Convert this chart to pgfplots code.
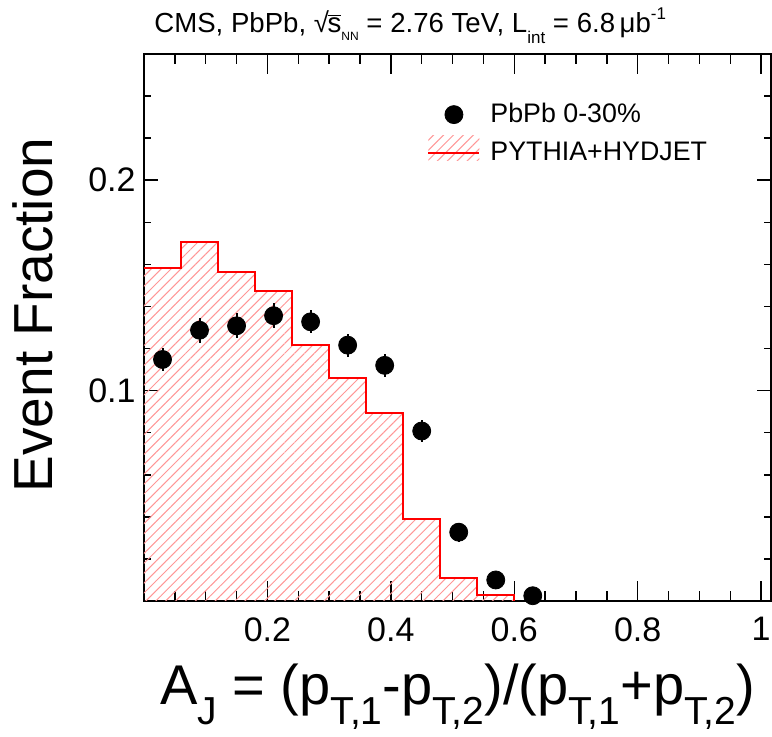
\documentclass[border=0pt]{standalone}
\usepackage{fontspec}
\setmainfont{Liberation Sans}
\usepackage{pgfplots}
\pgfplotsset{compat=1.18}
\usetikzlibrary{patterns.meta}
\definecolor{hatchred}{RGB}{255,150,150}
% ROOT-style lowered subscript for the axis title
\newcommand{\lsub}[1]{\raisebox{-10pt}{\fontsize{19.5}{19.5}\selectfont #1}}

\begin{document}
\begin{tikzpicture}
\begin{axis}[
    scale only axis,
    width=313.5pt, height=273.5pt,
    xmin=0, xmax=1.016, ymin=0, ymax=0.26,
    axis line style={line width=1pt},
    xtick={0.2,0.4,0.6,0.8,1},
    minor xtick={0.05,0.1,0.15,0.25,0.3,0.35,0.45,0.5,0.55,0.65,0.7,0.75,0.85,0.9,0.95},
    ytick={0.1,0.2},
    minor ytick={0.02,0.04,0.06,0.08,0.12,0.14,0.16,0.18,0.22,0.24},
    tick align=inside,
    tick style={black, line width=0.75pt},
    x tick style={/pgfplots/major tick length=10pt, /pgfplots/minor tick length=5pt},
    y tick style={/pgfplots/major tick length=7pt, /pgfplots/minor tick length=3.5pt},
    /pgf/number format/assume math mode=true,
    tick label style={font=\fontsize{17}{17}\selectfont},
    xticklabel style={inner sep=0pt, anchor=north, yshift=-8pt},
    yticklabel style={inner sep=0pt, anchor=east, xshift=-4pt},
    xlabel={A\lsub{J} = (p\lsub{T,1}-p\lsub{T,2})/(p\lsub{T,1}+p\lsub{T,2})},
    xlabel style={font=\fontsize{28}{28}\selectfont, at={(axis description cs:0.5,-0.19)}, anchor=base, inner sep=0pt},
    ylabel={Event Fraction},
    ylabel style={font=\fontsize{27.5}{27.5}\selectfont, at={(axis description cs:-0.1467,0.523)}, anchor=base, inner sep=0pt},
    legend style={draw=none, fill=none, at={(axis description cs:0.4514,0.9104)}, anchor=north west,
        font=\fontsize{13.4}{13.4}\selectfont, inner sep=0pt, row sep=5pt, nodes={inner sep=0pt},
        /tikz/every odd column/.append style={column sep=5pt}},
    legend cell align=left,
    reverse legend,
]
% PYTHIA+HYDJET histogram (bin lower edges)
\addplot[const plot, draw=none, forget plot,
    pattern={Lines[angle=45,distance=3.5pt,line width=0.5pt]}, pattern color=hatchred]
coordinates {
    (0,0.1584) (0.06,0.1705) (0.12,0.1565) (0.18,0.1473) (0.24,0.1216)
    (0.30,0.1062) (0.36,0.0895) (0.42,0.0390) (0.48,0.0108) (0.54,0.0030) (0.60,0.0030)
} \closedcycle;
\addplot[const plot, red, line width=1pt,
    legend image code/.code={
        \path[draw=none, pattern={Lines[angle=45,distance=3.5pt,line width=0.5pt]}, pattern color=hatchred]
            (0pt,-4pt) rectangle (25.5pt,8.5pt);
        \draw[red, line width=1pt] (0pt,0pt) -- (25.5pt,0pt);
    }]
coordinates {
    (0,0.1584) (0.06,0.1705) (0.12,0.1565) (0.18,0.1473) (0.24,0.1216)
    (0.30,0.1062) (0.36,0.0895) (0.42,0.0390) (0.48,0.0108) (0.54,0.0030) (0.60,0.0030) (0.60,0)
};
\addlegendentry{PYTHIA+HYDJET}
% PbPb 0-30% data
\addplot[only marks, mark=*, mark size=4.5pt, black,
    legend image code/.code={\fill[black] (12.75pt,0pt) circle (4.5pt);},
    error bars/.cd, y dir=both, y explicit, error mark=none,
    error bar style={line width=1pt, black}]
coordinates {
    (0.03,0.1148) +- (0,0.0055)
    (0.09,0.1287) +- (0,0.0060)
    (0.15,0.1308) +- (0,0.0060)
    (0.21,0.1356) +- (0,0.0060)
    (0.27,0.1327) +- (0,0.0055)
    (0.33,0.1216) +- (0,0.0055)
    (0.39,0.1120) +- (0,0.0055)
    (0.45,0.0808) +- (0,0.0050)
    (0.51,0.0327) +- (0,0.0045)
    (0.57,0.0100) +- (0,0.0035)
    (0.63,0.0025) +- (0,0.0020)
};
\addlegendentry{PbPb 0-30\%}
\end{axis}
\node[anchor=base west, inner sep=0pt, font=\fontsize{13.8}{13.8}\selectfont]
    at ([shift={(5pt,10.5pt)}]current axis.north west)
    {CMS, PbPb, √\kern-0.05em$\overline{\hbox{s}}$\raisebox{-0.5ex}{\fontsize{6}{6}\selectfont NN} = 2.76 TeV, L\raisebox{-0.7ex}{\fontsize{8.5}{8.5}\selectfont int} = 6.8\,μb\raisebox{0.9ex}{\fontsize{8.5}{8.5}\selectfont -1}};
\pgfresetboundingbox
\path ([shift={(-72pt,-68pt)}]current axis.south west) rectangle ([shift={(0.5pt,27pt)}]current axis.north east);
\end{tikzpicture}
\end{document}
